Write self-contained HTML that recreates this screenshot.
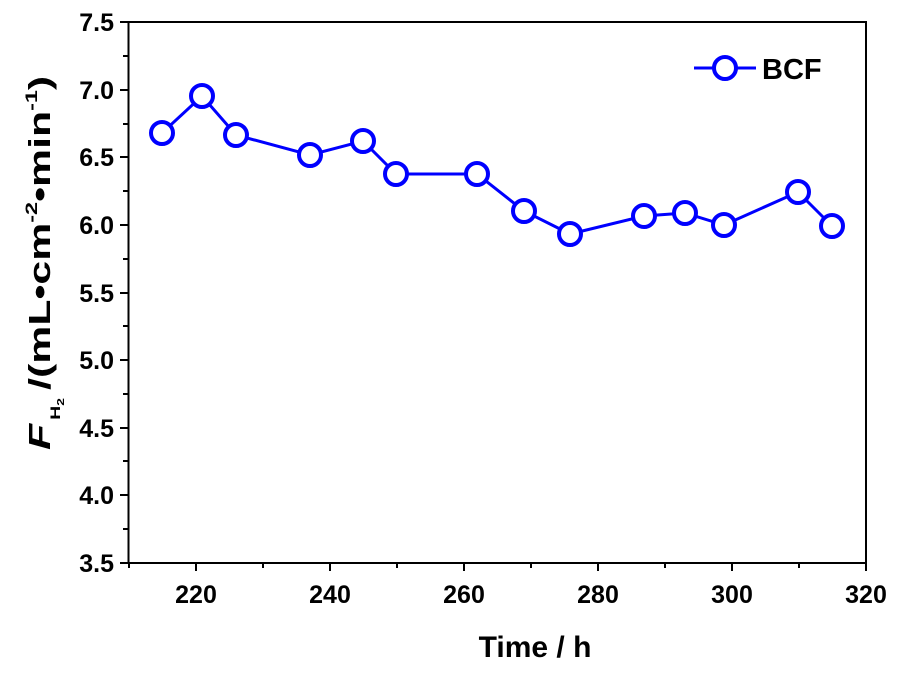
<!DOCTYPE html>
<html><head><style>body{margin:0;background:#fff}</style></head><body>
<svg width="900" height="668" xmlns="http://www.w3.org/2000/svg" font-family="Liberation Sans, Arial, sans-serif" font-weight="bold">
<rect x="128.5" y="22" width="737.5" height="541" fill="none" stroke="#000" stroke-width="2"/>
<g stroke="#000" stroke-width="2">
<line x1="196" y1="563" x2="196" y2="571"/><line x1="330" y1="563" x2="330" y2="571"/><line x1="464" y1="563" x2="464" y2="571"/><line x1="598" y1="563" x2="598" y2="571"/><line x1="732" y1="563" x2="732" y2="571"/><line x1="866" y1="563" x2="866" y2="571"/>
<line x1="129" y1="563" x2="129" y2="568"/><line x1="263" y1="563" x2="263" y2="568"/><line x1="397" y1="563" x2="397" y2="568"/><line x1="531" y1="563" x2="531" y2="568"/><line x1="665" y1="563" x2="665" y2="568"/><line x1="799" y1="563" x2="799" y2="568"/>
<line x1="120" y1="22" x2="128" y2="22"/><line x1="120" y1="90" x2="128" y2="90"/><line x1="120" y1="157" x2="128" y2="157"/><line x1="120" y1="225" x2="128" y2="225"/><line x1="120" y1="293" x2="128" y2="293"/><line x1="120" y1="360" x2="128" y2="360"/><line x1="120" y1="428" x2="128" y2="428"/><line x1="120" y1="495" x2="128" y2="495"/><line x1="120" y1="563" x2="128" y2="563"/>
<line x1="123" y1="56" x2="128" y2="56"/><line x1="123" y1="124" x2="128" y2="124"/><line x1="123" y1="191" x2="128" y2="191"/><line x1="123" y1="259" x2="128" y2="259"/><line x1="123" y1="326" x2="128" y2="326"/><line x1="123" y1="394" x2="128" y2="394"/><line x1="123" y1="461" x2="128" y2="461"/><line x1="123" y1="529" x2="128" y2="529"/>
</g>
<g font-size="25" text-anchor="end">
<text x="114" y="31">7.5</text><text x="114" y="99">7.0</text><text x="114" y="166">6.5</text><text x="114" y="234">6.0</text><text x="114" y="302">5.5</text><text x="114" y="369">5.0</text><text x="114" y="437">4.5</text><text x="114" y="504">4.0</text><text x="114" y="572">3.5</text>
</g>
<g font-size="25" text-anchor="middle">
<text x="196" y="603">220</text><text x="330" y="603">240</text><text x="464" y="603">260</text><text x="598" y="603">280</text><text x="732" y="603">300</text><text x="866" y="603">320</text>
</g>
<text x="535" y="657" font-size="30" text-anchor="middle">Time / h</text>
<g transform="translate(50,450) rotate(-90) scale(1.38,1)" font-size="31">
<text x="0" y="0"><tspan font-style="italic">F</tspan><tspan font-size="14" dy="10" dx="3">H</tspan><tspan font-size="10" dy="4">2</tspan><tspan dy="-14" dx="6">/(mL•cm</tspan><tspan font-size="17" dy="-13">-2</tspan><tspan dy="13">•min</tspan><tspan font-size="17" dy="-13">-1</tspan><tspan dy="13">)</tspan></text>
</g>
<polyline fill="none" stroke="#0000ff" stroke-width="3" points="162,133 202,96 236,135 310,155 363,141 396,174 477,174 524,211 570,234 644,216 685,213 724,225 798,192 832,226"/>
<g fill="#fff" stroke="#0000ff" stroke-width="4">
<circle cx="162" cy="133" r="11"/><circle cx="202" cy="96" r="11"/><circle cx="236" cy="135" r="11"/><circle cx="310" cy="155" r="11"/><circle cx="363" cy="141" r="11"/><circle cx="396" cy="174" r="11"/><circle cx="477" cy="174" r="11"/><circle cx="524" cy="211" r="11"/><circle cx="570" cy="234" r="11"/><circle cx="644" cy="216" r="11"/><circle cx="685" cy="213" r="11"/><circle cx="724" cy="225" r="11"/><circle cx="798" cy="192" r="11"/><circle cx="832" cy="226" r="11"/>
</g>
<line x1="694" y1="68" x2="756" y2="68" stroke="#0000ff" stroke-width="3"/>
<circle cx="725" cy="68" r="11" fill="#fff" stroke="#0000ff" stroke-width="4"/>
<text x="762" y="79" font-size="29">BCF</text>
</svg>
</body></html>
